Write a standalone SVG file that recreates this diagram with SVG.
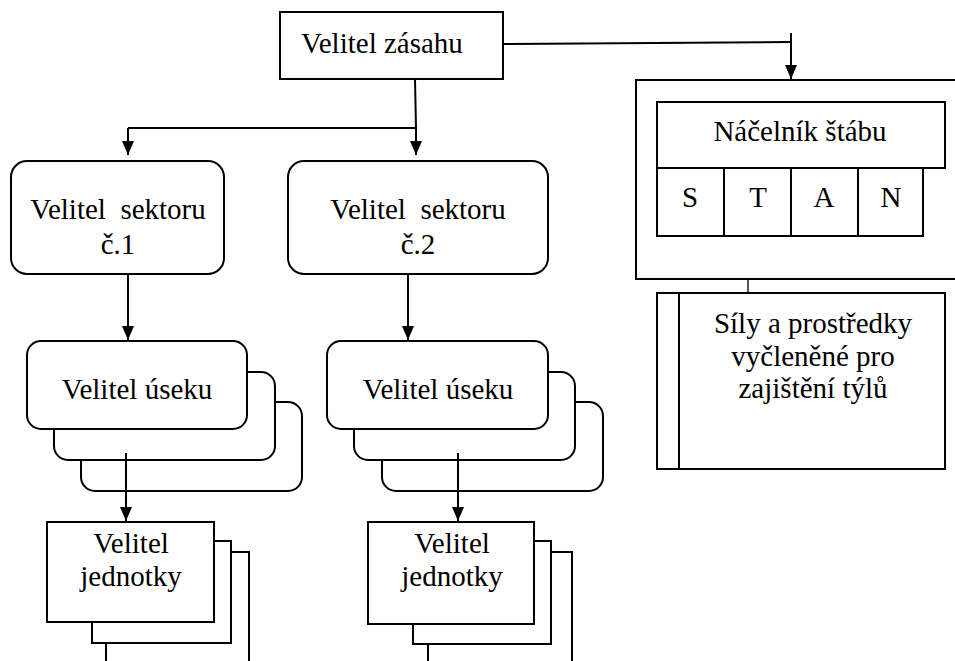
<svg xmlns="http://www.w3.org/2000/svg" width="955" height="661" viewBox="0 0 955 661">
<defs>
<style>
.b{fill:#fff;stroke:#000;stroke-width:2}
.t{font-family:'Liberation Serif','DejaVu Serif',serif;font-size:29px;fill:#000}
.m{text-anchor:middle}
.c{fill:none;stroke:#000;stroke-width:2}
</style>
<marker id="a" viewBox="0 0 14 12" refX="14" refY="6" markerWidth="14" markerHeight="12" markerUnits="userSpaceOnUse" orient="auto">
<path d="M0,0 L14,6 L0,12 Z" fill="#000"/>
</marker>
</defs>
<rect width="955" height="661" fill="#fff"/>

<g id="connectors">
<path class="c" d="M415,79 L416,128 L128,128"/>
<path class="c" d="M128,128 L128,155" marker-end="url(#a)"/>
<path class="c" d="M416,128 L416,155" marker-end="url(#a)"/>
<path class="c" d="M503,44 L790,42"/>
<path class="c" d="M791,33 L791,79" marker-end="url(#a)"/>
<path class="c" d="M128,274 L128,340" marker-end="url(#a)"/>
<path class="c" d="M408,274 L408,340" marker-end="url(#a)"/>
<path fill="none" stroke="#555" stroke-width="2" d="M748,279 L748,293"/>
</g>

<g id="velitel-zasahu">
<rect class="b" x="280" y="12" width="223" height="67"/>
<text class="t" x="301" y="53" font-family="Liberation Serif, DejaVu Serif, serif">Velitel zásahu</text>
</g>

<g id="stab">
<rect class="b" x="636" y="80" width="324" height="199"/>
<rect class="b" x="657" y="102" width="288" height="66"/>
<text class="t m" x="800" y="141">Náčelník štábu</text>
<rect class="b" x="657" y="168" width="67" height="68"/>
<rect class="b" x="724" y="168" width="67" height="68"/>
<rect class="b" x="791" y="168" width="67" height="68"/>
<rect class="b" x="858" y="168" width="65" height="68"/>
<text class="t m" x="690" y="207">S</text>
<text class="t m" x="758" y="207">T</text>
<text class="t m" x="824" y="207">A</text>
<text class="t m" x="891" y="207">N</text>
</g>

<g id="sily">
<rect class="b" x="657" y="293" width="288" height="176"/>
<line x1="679" y1="293" x2="679" y2="469" stroke="#000" stroke-width="2"/>
<text class="t m" x="813" y="333">Síly a prostředky</text>
<text class="t m" x="813" y="366">vyčleněné pro</text>
<text class="t m" x="813" y="398">zajištění týlů</text>
</g>

<g id="sektor1">
<rect class="b" x="11" y="161" width="213" height="113" rx="16"/>
<text class="t m" x="118" y="219" xml:space="preserve">Velitel  sektoru</text>
<text class="t m" x="118" y="254">č.1</text>
</g>

<g id="sektor2">
<rect class="b" x="288" y="161" width="260" height="113" rx="16"/>
<text class="t m" x="418" y="219" xml:space="preserve">Velitel  sektoru</text>
<text class="t m" x="418" y="254">č.2</text>
</g>

<g id="usek1">
<rect class="b" x="81" y="402" width="221" height="89" rx="14"/>
<rect class="b" x="54" y="372" width="221" height="88" rx="14"/>
<rect class="b" x="27" y="341" width="220" height="88" rx="14"/>
<text class="t m" x="137" y="399">Velitel úseku</text>
</g>

<g id="usek2">
<rect class="b" x="382" y="402" width="221" height="89" rx="14"/>
<rect class="b" x="354" y="372" width="221" height="88" rx="14"/>
<rect class="b" x="327" y="341" width="221" height="88" rx="14"/>
<text class="t m" x="438" y="399">Velitel úseku</text>
</g>

<g id="connectors-lower">
<path class="c" d="M126,453 L126,521" marker-end="url(#a)"/>
<path class="c" d="M458,453 L458,521" marker-end="url(#a)"/>
</g>

<g id="jednotka1">
<rect class="b" x="106" y="552" width="143" height="120"/>
<rect class="b" x="92" y="541" width="139" height="102"/>
<rect class="b" x="47" y="522" width="167" height="100"/>
<text class="t m" x="131" y="553">Velitel</text>
<text class="t m" x="131" y="586">jednotky</text>
</g>

<g id="jednotka2">
<rect class="b" x="428" y="552" width="144" height="120"/>
<rect class="b" x="413" y="541" width="138" height="103"/>
<rect class="b" x="368" y="522" width="166" height="102"/>
<text class="t m" x="452" y="553">Velitel</text>
<text class="t m" x="452" y="586">jednotky</text>
</g>
</svg>
